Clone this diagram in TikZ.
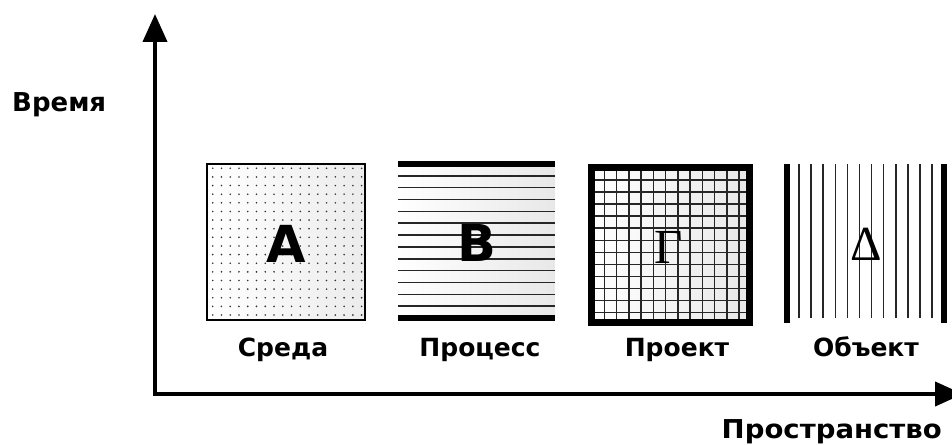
\documentclass[tikz,border=0pt]{standalone}
\usepackage{fontspec}
\setmainfont{DejaVu Sans}
\newfontfamily\grserif{Liberation Serif}
\usetikzlibrary{arrows.meta}
\begin{document}
\begin{tikzpicture}[x=1pt, y=-1pt, >={Triangle[length=28pt,width=24pt]},
  lbl/.style={inner sep=0pt, anchor=base, font=\fontsize{25}{30}\selectfont\bfseries},
  axlbl/.style={inner sep=0pt, font=\fontsize{26}{30}\selectfont\bfseries},
  bigltr/.style={inner sep=0pt, anchor=base, font=\fontsize{51}{60}\selectfont\bfseries},
  grltr/.style={inner sep=0pt, anchor=base, font=\fontsize{49}{58}\selectfont\grserif},
  thinln/.style={line width=1.6pt, black!85},
  bar/.style={line width=6.5pt}]
  \useasboundingbox (0,0) rectangle (952,444);
  \clip (0,0) rectangle (952,444);
  % axes
  \coordinate (O) at (155,394);
  \coordinate (ytip) at (155,14);
  \coordinate (xtip) at (963,394);
  \draw[<->, line width=4pt] (ytip) -- (O) -- (xtip);
  \node[axlbl, anchor=base west] (vremya) at (12,111) {Время};
  \node[axlbl, anchor=base east, xscale=1.06] (prostr) at (942,438) {Пространство};
  % A: dots
  \shade[left color=white, right color=gray!15] (207,164) rectangle (365,320);
  \foreach \i in {0,...,17}
    \foreach \j in {0,...,17}
      \fill[black!80] (212.7+8.76*\i, 168.3+8.63*\j) circle (0.9);
  \draw[line width=1.5pt] (207,164) rectangle (365,320);
  \node[bigltr] (ltrA) at (286,262) {A};
  \node[lbl] (sreda) at (283,356) {Среда};
  % B: horizontal lines
  \shade[left color=white, right color=gray!18] (398,164) rectangle (555,318);
  \foreach \k in {1,...,12}
    \draw[thinln] (398,{164+\k*154/13}) -- (555,{164+\k*154/13});
  \draw[bar] (398,164) -- (555,164);
  \draw[bar] (398,318) -- (555,318);
  \node[bigltr] (ltrB) at (477,261) {B};
  \node[lbl] (protsess) at (480,356) {Процесс};
  % Г: grid
  \shade[left color=white, right color=gray!18] (591.5,167.5) rectangle (749.5,322.5);
  \foreach \k in {0,...,11} {
    \draw[thinln] ({604.3+\k*12.25},167.5) -- ({604.3+\k*12.25},322.5);
    \draw[thinln] (591.5,{180+\k*12.06}) -- (749.5,{180+\k*12.06});
  }
  \draw[line width=7pt] (591.5,167.5) rectangle (749.5,322.5);
  \node[grltr] (ltrG) at (669,263) {Г};
  \node[lbl] (proekt) at (677,356) {Проект};
  % Δ: vertical lines
  \foreach \k in {1,...,12}
    \draw[thinln] ({787+\k*157/13},164) -- ({787+\k*157/13},318);
  \draw[bar] (787,164) -- (787,323);
  \draw[bar] (944,164) -- (944,323);
  \node[grltr] (ltrD) at (866,260) {Δ};
  \node[lbl] (obekt) at (866,356) {Объект};
\end{tikzpicture}
\end{document}
